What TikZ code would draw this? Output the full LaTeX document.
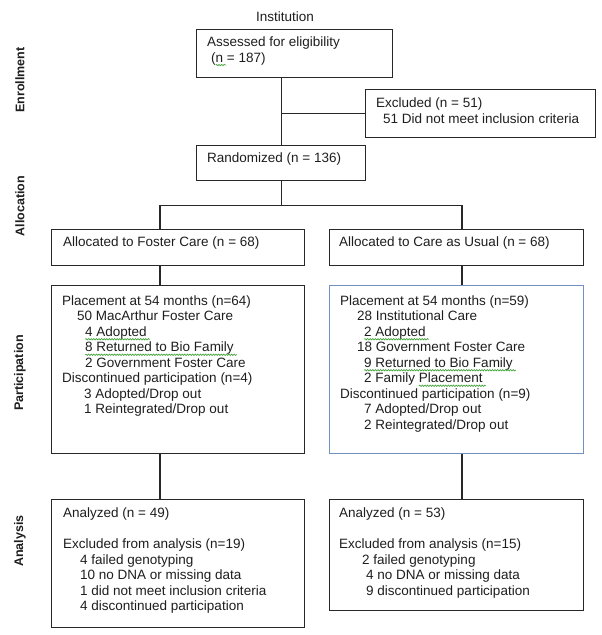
\documentclass[tikz,border=0pt]{standalone}
\usepackage{fontspec}
\setmainfont{Liberation Sans}
\usetikzlibrary{decorations.pathmorphing}
\definecolor{wavegreen}{RGB}{70,165,60}
\definecolor{linec}{RGB}{40,40,40}
\definecolor{textc}{RGB}{30,30,30}
\definecolor{bluebox}{RGB}{115,145,190}
\newcommand\gwave[1]{\tikz[baseline=(w.base)]{\node[inner sep=0pt,outer sep=0pt,anchor=base west] (w) {#1};%
  \draw[overlay, wavegreen, line width=0.7pt, decorate, decoration={snake, amplitude=0.7pt, segment length=2.6pt}]%
    ([yshift=-2.8pt]w.base west) -- ([yshift=-2.8pt,xshift=3pt]w.base east);}}
\begin{document}
\begin{tikzpicture}[x=1pt,y=1pt,
  box/.style={draw=linec, line width=1.3pt, inner sep=0pt, anchor=north west},
  txt/.style={anchor=north west, inner sep=0pt, align=left, text=textc,
    font=\fontsize{13.5}{15.5}\selectfont},
  side/.style={rotate=90, inner sep=0pt, text=textc,
    font=\fontsize{12.5}{14}\selectfont\bfseries},
  conn/.style={draw=linec, line width=1.3pt}]
\useasboundingbox (0,0) rectangle (602,-635);

% column coordinates
\coordinate (colL) at (160,0);
\coordinate (colR) at (462,0);

% side labels
\node[side] (lenr) at (20,-80) {Enrollment};
\node[side] (lall) at (20,-206) {Allocation};
\node[side] (lpar) at (20,-373) {Participation};
\node[side] (lana) at (20,-541) {Analysis};

% title
\node[txt, anchor=center] (inst) at (285,-17) {Institution};

% boxes
\node[box, minimum width=196, minimum height=48] (assess) at (196,-29) {};
\node[box, minimum width=230, minimum height=48] (excl) at (365,-89) {};
\node[box, minimum width=169, minimum height=35] (rand) at (196,-145) {};
\node[box, minimum width=253, minimum height=36] (allocL) at (51,-229) {};
\node[box, minimum width=254, minimum height=36] (allocR) at (329,-229) {};
\node[box, minimum width=253, minimum height=168] (placeL) at (51,-285) {};
\node[box, draw=bluebox, line width=1pt, minimum width=254, minimum height=168] (placeR) at (329,-285) {};
\node[box, minimum width=253, minimum height=128] (anaL) at (51,-499) {};
\node[box, minimum width=254, minimum height=111] (anaR) at (329,-499) {};

% texts
\node[txt] (tassess) at (207,-35.7) {\strut Assessed for eligibility\\\hspace*{4pt}(\gwave{n} = 187)};
\node[txt] (texcl) at (376,-96.7) {\strut Excluded (n = 51)\\\hspace*{7pt}51 Did not meet inclusion criteria};
\node[txt] (trand) at (207,-151.7) {\strut Randomized (n = 136)};
\node[txt] (tallocL) at (63,-235.7) {\strut Allocated to Foster Care (n = 68)};
\node[txt] (tallocR) at (339,-235.7) {\strut Allocated to Care as Usual (n = 68)};
\node[txt] (tplaceL) at (62,-294.4) {\strut Placement at 54 months (n=64)\\
\hspace*{15pt}50 MacArthur Foster Care\\
\hspace*{23pt}\gwave{4 Adopted}\\
\hspace*{23pt}\gwave{8 Returned to Bio Family}\\
\hspace*{23pt}2 Government Foster Care\\
Discontinued participation (n=4)\\
\hspace*{22pt}3 Adopted/Drop out\\
\hspace*{22pt}1 Reintegrated/Drop out};
\node[txt] (tplaceR) at (340,-294.4) {\strut Placement at 54 months (n=59)\\
\hspace*{17pt}28 Institutional Care\\
\hspace*{24pt}\gwave{2 Adopted}\\
\hspace*{17pt}18 Government Foster Care\\
\hspace*{24pt}\gwave{9 Returned to Bio Family}\\
\hspace*{24pt}2 Family \gwave{Placement}\\
Discontinued participation (n=9)\\
\hspace*{24pt}7 Adopted/Drop out\\
\hspace*{24pt}2 Reintegrated/Drop out};
\node[txt] (tanaL) at (63,-506.7) {\strut Analyzed (n = 49)\\[15.5pt]
Excluded from analysis (n=19)\\
\hspace*{17pt}4 failed genotyping\\
\hspace*{17pt}10 no DNA or missing data\\
\hspace*{17pt}1 did not meet inclusion criteria\\
\hspace*{17pt}4 discontinued participation};
\node[txt] (tanaR) at (339,-506.7) {\strut Analyzed (n = 53)\\[15.5pt]
Excluded from analysis (n=15)\\
\hspace*{23pt}2 failed genotyping\\
\hspace*{27pt}4 no DNA or missing data\\
\hspace*{27pt}9 discontinued participation};

% connectors
\draw[conn] (rand.north) -- (rand.north |- assess.south);
\draw[conn] (rand.north |- excl.west) -- (excl.west);
\draw[conn] (rand.south) -- ++(0,-24) coordinate (split);
\draw[conn] (split -| colL) -- (split -| colR);
\draw[conn] (split -| colL) -- (allocL.north -| colL);
\draw[conn] (split -| colR) -- (allocR.north -| colR);
\draw[conn] (allocL.south -| colL) -- (placeL.north -| colL);
\draw[conn] (allocR.south -| colR) -- (placeR.north -| colR);
\draw[conn] (placeL.south -| colL) -- (anaL.north -| colL);
\draw[conn] (placeR.south -| colR) -- (anaR.north -| colR);
\end{tikzpicture}
\end{document}
